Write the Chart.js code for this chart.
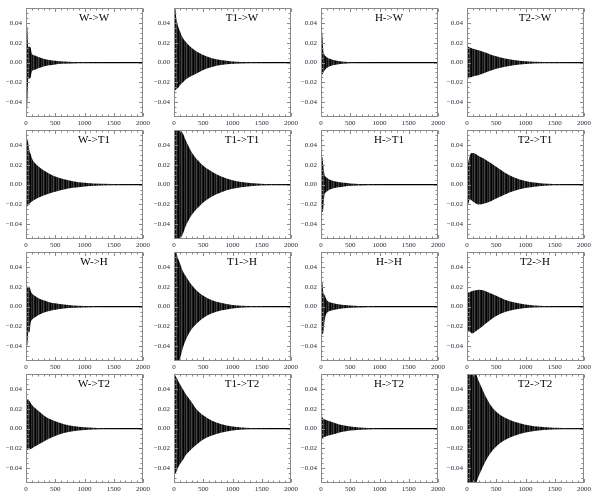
<!DOCTYPE html>
<html>
<head>
<meta charset="utf-8">
<script src="https://cdn.jsdelivr.net/npm/chart.js@4.4.1/dist/chart.umd.min.js"></script>
<style>
  html, body { margin: 0; padding: 0; background: #fff; }
  body { position: relative; width: 595px; height: 497px; overflow: hidden; }
  canvas { position: absolute; }
</style>
</head>
<body>
<script>
// ---- data (envelope of each impulse response) ----
const channels = ['W', 'T1', 'H', 'T2'];           // column = source, row = target
const sampleX = [0, 20, 40, 60, 80, 100, 150, 200, 300, 400, 500, 650, 800, 1000, 1300, 2000];
const xTickValues = [0, 500, 1000, 1500, 2000];
const xTickLabels = ['0', '500', '1000', '1500', '2000'];
const yTickValues = [-0.04, -0.02, 0, 0.02, 0.04];
const yTickLabels = ['\u22120.04', '\u22120.02', '0.00', '0.02', '0.04'];

// row 1: target W
const W_W_up  = [0.036, 0.036, 0.016, 0.016, 0.015, 0.009, 0.0073, 0.006, 0.004, 0.0027, 0.0018, 0.001, 0.0006, 0.0003, 0.0001, 0];
const W_W_lo  = [-0.055, -0.045, -0.016, -0.016, -0.015, -0.009, -0.0073, -0.006, -0.004, -0.0027, -0.0018, -0.001, -0.0006, -0.0003, -0.0001, 0];
const T1_W_up = [0.055, 0.055, 0.045, 0.039, 0.035, 0.032, 0.025, 0.021, 0.015, 0.0107, 0.0077, 0.0045, 0.0026, 0.0012, 0.0004, 0];
const T1_W_lo = [-0.03, -0.028, -0.027, -0.026, -0.025, -0.023, -0.02, -0.017, -0.0135, -0.0105, -0.0075, -0.0044, -0.0025, -0.0012, -0.0004, 0];
const H_W_up  = [0.033, 0.03, 0.012, 0.008, 0.0065, 0.0055, 0.0038, 0.0028, 0.0016, 0.0009, 0.0005, 0.0002, 0.0001, 0, 0, 0];
const H_W_lo  = [-0.012, -0.012, -0.01, -0.008, -0.0065, -0.0055, -0.0038, -0.0028, -0.0016, -0.0009, -0.0005, -0.0002, -0.0001, 0, 0, 0];
const T2_W_up = [0.016, 0.016, 0.0155, 0.015, 0.0145, 0.014, 0.0133, 0.0125, 0.0105, 0.0083, 0.0063, 0.0042, 0.0027, 0.0014, 0.0005, 0];
const T2_W_lo = [-0.018, -0.016, -0.015, -0.0148, -0.0145, -0.014, -0.0133, -0.0125, -0.0105, -0.0083, -0.0063, -0.0042, -0.0027, -0.0014, -0.0005, 0];
// row 2: target T1
const W_T1_up  = [0.05, 0.046, 0.042, 0.034, 0.031, 0.027, 0.022, 0.019, 0.0145, 0.011, 0.0083, 0.0055, 0.0035, 0.0019, 0.0008, 0];
const W_T1_lo  = [-0.023, -0.022, -0.021, -0.019, -0.018, -0.017, -0.0153, -0.0135, -0.011, -0.009, -0.0072, -0.005, -0.0033, -0.0018, -0.0007, 0];
const T1_T1_up = [0.055, 0.055, 0.055, 0.055, 0.055, 0.055, 0.052, 0.045, 0.033, 0.025, 0.019, 0.013, 0.0085, 0.0045, 0.0017, 0];
const T1_T1_lo = [-0.055, -0.055, -0.055, -0.055, -0.055, -0.055, -0.05, -0.042, -0.031, -0.024, -0.018, -0.012, -0.008, -0.0043, -0.0016, 0];
const H_T1_up  = [0.028, 0.028, 0.02, 0.01, 0.008, 0.007, 0.005, 0.004, 0.0027, 0.0018, 0.0012, 0.0007, 0.0004, 0.0002, 0, 0];
const H_T1_lo  = [-0.02, -0.028, -0.024, -0.01, -0.008, -0.007, -0.005, -0.004, -0.0027, -0.0018, -0.0012, -0.0007, -0.0004, -0.0002, 0, 0];
const T2_T1_up = [0.016, 0.022, 0.028, 0.031, 0.032, 0.032, 0.031, 0.029, 0.026, 0.022, 0.018, 0.012, 0.0075, 0.0037, 0.0012, 0];
const T2_T1_lo = [-0.022, -0.02, -0.016, -0.015, -0.016, -0.017, -0.019, -0.02, -0.019, -0.017, -0.014, -0.01, -0.0065, -0.0035, -0.0012, 0];
// row 3: target H
const W_H_up  = [0.02, 0.02, 0.02, 0.02, 0.016, 0.0135, 0.011, 0.009, 0.0063, 0.0045, 0.0033, 0.002, 0.0012, 0.0006, 0.0002, 0];
const W_H_lo  = [-0.04, -0.04, -0.026, -0.026, -0.016, -0.0135, -0.011, -0.009, -0.0063, -0.0045, -0.0033, -0.002, -0.0012, -0.0006, -0.0002, 0];
const T1_H_up = [0.055, 0.055, 0.055, 0.05, 0.047, 0.044, 0.036, 0.031, 0.022, 0.0155, 0.011, 0.0065, 0.0038, 0.0017, 0.0005, 0];
const T1_H_lo = [-0.055, -0.055, -0.055, -0.055, -0.055, -0.053, -0.042, -0.034, -0.023, -0.0165, -0.0115, -0.0068, -0.004, -0.0018, -0.0005, 0];
const H_H_up  = [0.025, 0.025, 0.014, 0.012, 0.009, 0.0065, 0.0045, 0.0037, 0.0025, 0.0017, 0.0012, 0.0007, 0.0004, 0.0002, 0, 0];
const H_H_lo  = [-0.05, -0.028, -0.027, -0.015, -0.009, -0.0065, -0.0045, -0.0037, -0.0025, -0.0017, -0.0012, -0.0007, -0.0004, -0.0002, 0, 0];
const T2_H_up = [0.014, 0.014, 0.0145, 0.015, 0.0155, 0.016, 0.0165, 0.017, 0.016, 0.0135, 0.011, 0.007, 0.0043, 0.002, 0.0006, 0];
const T2_H_lo = [-0.02, -0.024, -0.025, -0.026, -0.027, -0.027, -0.025, -0.023, -0.018, -0.0135, -0.0095, -0.0055, -0.0032, -0.0014, -0.0004, 0];
// row 4: target T2
const W_T2_up  = [0.031, 0.03, 0.029, 0.028, 0.026, 0.024, 0.021, 0.0185, 0.0135, 0.01, 0.0075, 0.0045, 0.0027, 0.0014, 0.0004, 0];
const W_T2_lo  = [-0.022, -0.022, -0.021, -0.021, -0.0205, -0.02, -0.018, -0.0165, -0.0133, -0.01, -0.0075, -0.0045, -0.0027, -0.0014, -0.0004, 0];
const T1_T2_up = [0.055, 0.054, 0.052, 0.05, 0.047, 0.045, 0.04, 0.035, 0.027, 0.0185, 0.0135, 0.008, 0.0047, 0.002, 0.0006, 0];
const T1_T2_lo = [-0.048, -0.046, -0.044, -0.041, -0.038, -0.036, -0.032, -0.027, -0.0205, -0.0155, -0.011, -0.007, -0.0042, -0.0018, -0.0005, 0];
const H_T2_up  = [0.017, 0.012, 0.01, 0.0095, 0.009, 0.0085, 0.0075, 0.0065, 0.0045, 0.0032, 0.0022, 0.0012, 0.0006, 0.0002, 0, 0];
const H_T2_lo  = [-0.01, -0.01, -0.009, -0.0085, -0.008, -0.0075, -0.0067, -0.006, -0.0042, -0.003, -0.002, -0.0011, -0.0006, -0.0002, 0, 0];
const T2_T2_up = [0.055, 0.055, 0.055, 0.055, 0.055, 0.055, 0.055, 0.048, 0.035, 0.024, 0.017, 0.011, 0.0073, 0.004, 0.0015, 0];
const T2_T2_lo = [-0.055, -0.055, -0.055, -0.055, -0.055, -0.055, -0.055, -0.048, -0.035, -0.025, -0.018, -0.0115, -0.0075, -0.004, -0.0015, 0];

const panelRows = [
  [[W_W_up, W_W_lo], [T1_W_up, T1_W_lo], [H_W_up, H_W_lo], [T2_W_up, T2_W_lo]],
  [[W_T1_up, W_T1_lo], [T1_T1_up, T1_T1_lo], [H_T1_up, H_T1_lo], [T2_T1_up, T2_T1_lo]],
  [[W_H_up, W_H_lo], [T1_H_up, T1_H_lo], [H_H_up, H_H_lo], [T2_H_up, T2_H_lo]],
  [[W_T2_up, W_T2_lo], [T1_T2_up, T1_T2_lo], [H_T2_up, H_T2_lo], [T2_T2_up, T2_T2_lo]]
];

// ---- layout ----
const panelLeft = [26, 174, 321, 467];
const panelTop = [7, 129, 251, 373];
const AXIS_W = 26, AXIS_H = 14, PAD_TOP = 7, PLOT_W = 123, PLOT_H = 110, PAD_RIGHT = 3;
const FRAME = '#8a8a8a';

// striped fill to imitate dense oscillation
function makePattern() {
  const pc = document.createElement('canvas');
  pc.width = 5; pc.height = 1;
  const p = pc.getContext('2d');
  const cols = ['#000', '#2e2e2e', '#111', '#444', '#1a1a1a'];
  cols.forEach((col, i) => { p.fillStyle = col; p.fillRect(i, 0, 1, 1); });
  return p.createPattern(pc, 'repeat');
}
const stripes = makePattern();

const framePlugin = {
  id: 'frame',
  afterDatasetsDraw(chart, args, opts) {
    const { ctx, chartArea: a, scales: { x, y } } = chart;
    const L = Math.round(a.left) + 0.5, R = Math.round(a.right) - 0.5;
    const T = Math.round(a.top) + 0.5, B = Math.round(a.bottom) - 0.5;
    ctx.save();
    ctx.strokeStyle = FRAME;
    ctx.lineWidth = 1;
    ctx.strokeRect(L, T, R - L, B - T);
    ctx.beginPath();
    for (let v = 0; v <= 2000; v += 100) {
      const px = Math.round(x.getPixelForValue(v)) + 0.5;
      const len = (v % 500 === 0) ? 3.5 : 2;
      ctx.moveTo(px, B); ctx.lineTo(px, B - len);
      ctx.moveTo(px, T); ctx.lineTo(px, T + len);
    }
    for (let k = -10; k <= 10; k++) {
      const v = k * 0.005;
      const py = Math.round(y.getPixelForValue(v)) + 0.5;
      const len = (k % 4 === 0) ? 3.5 : 2;
      ctx.moveTo(L, py); ctx.lineTo(L + len, py);
      ctx.moveTo(R, py); ctx.lineTo(R - len, py);
    }
    ctx.stroke();
    // panel caption inside the frame
    ctx.fillStyle = '#000';
    ctx.font = '11px "Liberation Serif", "Times New Roman", serif';
    ctx.textAlign = 'center';
    ctx.textBaseline = 'middle';
    ctx.fillText(opts.text, a.left + 68, a.top + 10);
    ctx.restore();
  }
};

function buildPanel(r, c) {
  const [up, lo] = panelRows[r][c];
  const cv = document.createElement('canvas');
  cv.width = AXIS_W + PLOT_W + PAD_RIGHT;
  cv.height = PAD_TOP + PLOT_H + AXIS_H;
  cv.style.left = (panelLeft[c] - AXIS_W) + 'px';
  cv.style.top = (panelTop[r] - PAD_TOP) + 'px';
  document.body.appendChild(cv);
  const title = channels[c] + '->' + channels[r];
  new Chart(cv, {
    type: 'line',
    data: {
      datasets: [
        { data: sampleX.map((x, i) => ({ x, y: up[i] })), fill: '+1', backgroundColor: stripes,
          borderWidth: 0, pointRadius: 0, cubicInterpolationMode: 'monotone' },
        { data: sampleX.map((x, i) => ({ x, y: lo[i] })), fill: false, borderWidth: 0,
          pointRadius: 0, cubicInterpolationMode: 'monotone' },
        { data: [{ x: sampleX[0], y: 0 }, { x: sampleX[sampleX.length - 1], y: 0 }], fill: false,
          borderColor: '#000', borderWidth: 1.4, pointRadius: 0 }
      ]
    },
    options: {
      responsive: false, animation: false, devicePixelRatio: 1,
      layout: { padding: { top: PAD_TOP, right: PAD_RIGHT, left: 0, bottom: 0 } },
      plugins: { legend: { display: false }, tooltip: { enabled: false }, frame: { text: title } },
      scales: {
        x: {
          type: 'linear', min: 0, max: 2000,
          afterBuildTicks: s => { s.ticks = xTickValues.map(v => ({ value: v })); },
          afterFit: s => { s.height = AXIS_H; },
          grid: { display: false, drawTicks: false }, border: { display: false },
          ticks: { padding: 2, maxRotation: 0, autoSkip: false, color: '#2b2b3a',
                   font: { family: '"Liberation Serif", serif', size: 7 },
                   callback: (v, i) => xTickLabels[i] }
        },
        y: {
          type: 'linear', min: -0.055, max: 0.055,
          afterBuildTicks: s => { s.ticks = yTickValues.map(v => ({ value: v })); },
          afterFit: s => { s.width = AXIS_W; },
          grid: { display: false, drawTicks: false }, border: { display: false },
          ticks: { padding: 4, autoSkip: false, color: '#2b2b3a',
                   font: { family: '"Liberation Serif", serif', size: 7 },
                   callback: (v, i) => yTickLabels[i] }
        }
      }
    },
    plugins: [framePlugin]
  });
}

for (let r = 0; r < 4; r++) for (let c = 0; c < 4; c++) buildPanel(r, c);
</script>
</body>
</html>
